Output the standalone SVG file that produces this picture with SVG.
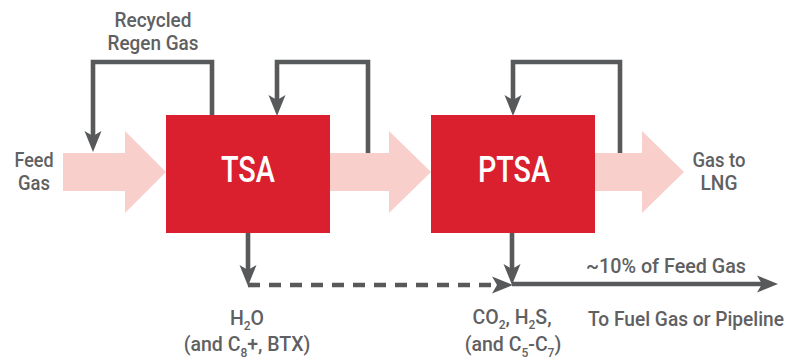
<svg xmlns="http://www.w3.org/2000/svg" width="796" height="362" viewBox="0 0 796 362">
  <style>
    .lbl { font-family: Roboto, "Liberation Sans", sans-serif; font-weight: 500; font-size: 19.5px; fill: #5f6062; text-anchor: middle; }
    .sub { font-size: 12px; }
    .box { fill: #da1f2f; }
    .big { font-family: Roboto, "Liberation Sans", sans-serif; font-weight: 500; font-size: 37px; fill: #ffffff; text-anchor: middle; }
    .flow { fill: #f9cfcc; }
    .ln { fill: none; stroke: #58595b; stroke-width: 4.6; stroke-linejoin: miter; }
    .dash { stroke-dasharray: 12 9; }
  </style>
  <defs>
    <marker id="ah" viewBox="-22 -9 23 18" refX="-15" refY="0" markerWidth="23" markerHeight="18" markerUnits="userSpaceOnUse" orient="auto">
      <path d="M0,0 L-21,-8.5 L-16,0 L-21,8.5 Z" fill="#58595b"/>
    </marker>
  </defs>

  <g id="flows">
    <polygon class="flow" points="63,153 125,153 125,131 166,172 125,213 125,191 63,191"/>
    <polygon class="flow" points="330,153 389,153 389,131 431,172 389,213 389,191 330,191"/>
    <polygon class="flow" points="595,153 642,153 642,131 684,172 642,213 642,191 595,191"/>
  </g>

  <g id="connectors">
    <path class="ln" d="M212,115 V62 H93 V137" marker-end="url(#ah)"/>
    <path class="ln" d="M368,153 V62 H277 V101" marker-end="url(#ah)"/>
    <path class="ln" d="M620,153 V62 H513 V101" marker-end="url(#ah)"/>
    <path class="ln" d="M248,233 V271" marker-end="url(#ah)"/>
    <path class="ln" d="M512,233 V270" marker-end="url(#ah)"/>
    <path class="ln dash" d="M248,285 H498" marker-end="url(#ah)"/>
    <path class="ln" d="M512,284 H763" marker-end="url(#ah)"/>
  </g>

  <g id="tsa">
    <rect class="box" x="166" y="115" width="164" height="118"/>
    <text class="big" x="248" y="182" textLength="54" lengthAdjust="spacingAndGlyphs">TSA</text>
  </g>

  <g id="ptsa">
    <rect class="box" x="431" y="115" width="164" height="118"/>
    <text class="big" x="514" y="182" textLength="72" lengthAdjust="spacingAndGlyphs">PTSA</text>
  </g>

  <g id="recycled-label">
    <text class="lbl" x="153" y="27" textLength="77" lengthAdjust="spacingAndGlyphs">Recycled</text>
    <text class="lbl" x="153" y="50" textLength="91" lengthAdjust="spacingAndGlyphs">Regen Gas</text>
  </g>

  <g id="feed-label">
    <text class="lbl" x="34" y="167" textLength="39" lengthAdjust="spacingAndGlyphs">Feed</text>
    <text class="lbl" x="34" y="190" textLength="32" lengthAdjust="spacingAndGlyphs">Gas</text>
  </g>

  <g id="lng-label">
    <text class="lbl" x="719" y="167" textLength="53" lengthAdjust="spacingAndGlyphs">Gas to</text>
    <text class="lbl" x="719" y="190" textLength="37" lengthAdjust="spacingAndGlyphs">LNG</text>
  </g>

  <g id="fuel-label">
    <text class="lbl" x="666" y="273" textLength="160" lengthAdjust="spacingAndGlyphs">~10% of Feed Gas</text>
    <text class="lbl" x="686" y="326" textLength="196" lengthAdjust="spacingAndGlyphs">To Fuel Gas or Pipeline</text>
  </g>

  <g id="h2o-label">
    <text class="lbl" x="247" y="325">H<tspan class="sub" dy="5">2</tspan><tspan dy="-5">O</tspan></text>
    <text class="lbl" x="247" y="351">(and C<tspan class="sub" dy="6">8</tspan><tspan dy="-6">+, BTX)</tspan></text>
  </g>

  <g id="co2-label">
    <text class="lbl" x="512" y="324">CO<tspan class="sub" dy="5">2</tspan><tspan dy="-5">, H</tspan><tspan class="sub" dy="5">2</tspan><tspan dy="-5">S,</tspan></text>
    <text class="lbl" x="513" y="351">(and C<tspan class="sub" dy="6">5</tspan><tspan dy="-6">-C</tspan><tspan class="sub" dy="6">7</tspan><tspan dy="-6">)</tspan></text>
  </g>
</svg>
